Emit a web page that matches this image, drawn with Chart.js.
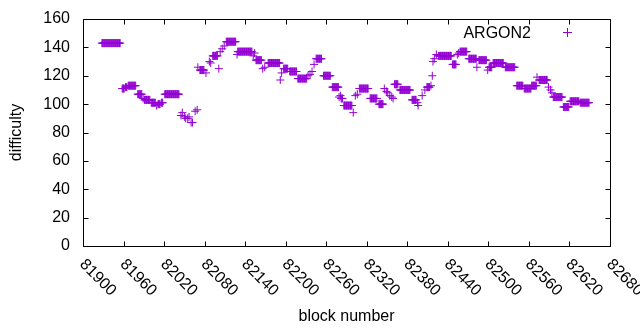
<!DOCTYPE html>
<html><head><meta charset="utf-8">
<script src="https://cdn.jsdelivr.net/npm/chart.js@4.4.1/dist/chart.umd.min.js"></script>
<style>html,body{margin:0;padding:0;background:#fff;} canvas{display:block;}</style>
</head><body>
<canvas id="c" width="640" height="330"></canvas>
<script>
const seriesName = 'ARGON2';
const xTitle = 'block number';
const yTitle = 'difficulty';
// runs of consecutive blocks with the same difficulty (start block, end block, value)
const runStart = [81928,81958,81963,81967,81981,81989,81991,82001,82009,82011,82016,82021,
  82045,82047,82050,82052,82055,82057,82060,82062,82066,82069,82070,82073,82082,82087,82089,
  82092,82101,82103,82106,82109,82112,82128,82129,82152,82154,82156,82166,82169,82174,82192,
  82194,82197,82206,82218,82233,82236,82239,82242,82245,82256,82269,82279,82281,82282,82286,
  82300,82303,82306,82309,82325,82338,82346,82349,82351,82354,82357,82359,82361,82369,82387,
  82395,82396,82402,82406,82409,82415,82417,82418,82420,82423,82426,82447,82454,82456,82458,
  82471,82483,82486,82499,82501,82507,82525,82542,82553,82564,82572,82575,82589,82592,82594,
  82596,82611,82621,82636];
const runEnd = [81955,81961,81965,81978,81987,81989,81999,82007,82009,82014,82018,82042,
  82045,82047,82050,82052,82055,82057,82060,82062,82066,82069,82070,82079,82082,82087,82089,
  82099,82101,82103,82106,82109,82126,82128,82150,82152,82154,82164,82166,82169,82191,82192,
  82194,82203,82216,82231,82233,82236,82239,82242,82253,82266,82278,82279,82281,82284,82298,
  82300,82303,82306,82322,82335,82344,82346,82349,82351,82354,82357,82359,82366,82384,82393,
  82395,82396,82402,82406,82413,82415,82417,82418,82420,82423,82445,82452,82454,82456,82468,
  82482,82483,82497,82499,82505,82522,82539,82551,82563,82571,82572,82587,82589,82592,82594,
  82609,82619,82634,82649];
const runValue = [143,111,112,113,107,104,103,101,99,100,101,107,
  92,94,91,90,90,91,87,87,95,96,126,124,122,130,129,
  134,125,137,139,141,144,135,137,134,136,131,125,126,129,117,
  122,125,123,118,120,121,123,128,132,120,112,105,106,104,99,
  94,106,107,111,104,100,111,109,108,106,105,104,114,110,103,
  101,99,106,110,112,113,120,130,132,135,134,128,135,136,137,
  132,126,131,124,126,129,126,113,111,113,119,117,112,110,108,
  105,98,102,101];
const xMin = 81900, xMax = 82680, xStep = 60;
const yMin = 0, yMax = 160, yStep = 20;

const color = '#9400D3';
const family = '"Liberation Sans", Arial, sans-serif';
const fontSize = 16;

const points = [];
for (let i = 0; i < runStart.length; i++) {
  for (let b = runStart[i]; b <= runEnd[i]; b++) points.push({x: b, y: runValue[i]});
}

const frame = {
  id: 'frame',
  afterDraw(chart) {
    const {ctx, chartArea: a, scales: {x, y}} = chart;
    ctx.save();
    ctx.strokeStyle = '#000'; ctx.lineWidth = 1;
    const L = Math.round(a.left) + 0.5, R = Math.round(a.right) + 0.5;
    const T = Math.round(a.top) + 0.5, B = Math.round(a.bottom) + 0.5;
    ctx.beginPath();
    ctx.rect(L, T, R - L, B - T);
    const tl = 5;
    x.ticks.forEach(t => { const p = Math.round(x.getPixelForValue(t.value)) + 0.5;
      ctx.moveTo(p, B); ctx.lineTo(p, B - tl); ctx.moveTo(p, T); ctx.lineTo(p, T + tl); });
    y.ticks.forEach(t => { const p = Math.round(y.getPixelForValue(t.value)) + 0.5;
      ctx.moveTo(L, p); ctx.lineTo(L + tl, p); ctx.moveTo(R, p); ctx.lineTo(R - tl, p); });
    ctx.stroke();
    ctx.fillStyle = '#000';
    ctx.font = fontSize + 'px ' + family;
    ctx.textAlign = 'left'; ctx.textBaseline = 'middle';
    x.ticks.forEach(t => {
      const p = x.getPixelForValue(t.value);
      ctx.save(); ctx.translate(p - 1, 262); ctx.rotate(Math.PI / 4);
      ctx.fillText(String(t.value), 0, 0); ctx.restore();
    });
    ctx.textAlign = 'right';
    ctx.fillText(seriesName, 531, 33.5);
    ctx.strokeStyle = color;
    ctx.beginPath();
    ctx.moveTo(563, 32.5); ctx.lineTo(572, 32.5);
    ctx.moveTo(567.5, 28); ctx.lineTo(567.5, 37);
    ctx.stroke();
    ctx.restore();
  }
};

new Chart(document.getElementById('c'), {
  type: 'scatter',
  data: {datasets: [{label: seriesName, data: points, pointStyle: 'cross', pointRadius: 4,
    pointBorderWidth: 1, borderColor: color, backgroundColor: color, showLine: false}]},
  options: {
    responsive: false, animation: false, devicePixelRatio: 1, events: [],
    layout: {padding: {left: 0, top: 19, right: 30, bottom: 0}},
    plugins: {legend: {display: false}, tooltip: {enabled: false}},
    scales: {
      x: {type: 'linear', min: xMin, max: xMax,
        ticks: {display: false, stepSize: xStep},
        grid: {display: false, drawTicks: false}, border: {display: false},
        title: {display: true, text: xTitle, color: '#000', font: {family, size: fontSize}, padding: {top: 0, bottom: 4}},
        afterFit(s) { s.height = 84; }},
      y: {min: yMin, max: yMax,
        ticks: {stepSize: yStep, color: '#000', font: {family, size: fontSize}, padding: 0},
        grid: {display: true, drawOnChartArea: false, drawTicks: true, tickLength: 13, color: 'rgba(0,0,0,0)'},
        border: {display: false},
        title: {display: true, text: yTitle, color: '#000', font: {family, size: fontSize}, padding: {top: 7, bottom: 0}},
        afterFit(s) { s.width = 83; }}
    }
  },
  plugins: [frame]
});
</script>
</body></html>
